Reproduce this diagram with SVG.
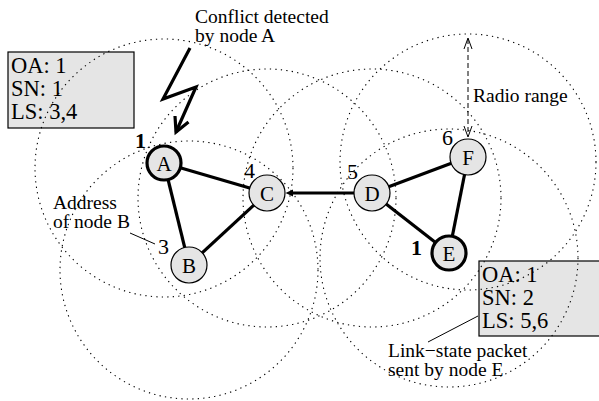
<svg xmlns="http://www.w3.org/2000/svg" width="599" height="401" viewBox="0 0 599 401" font-family="'Liberation Serif', 'DejaVu Serif', serif">
<style>
text{font-family:'Liberation Serif','DejaVu Serif',serif;font-size:19.5px;fill:#000}
.box{fill:#e5e5e5;stroke:#000;stroke-width:1.2}
.bt{font-size:22.5px}
.num{font-size:22px}
.range{fill:none;stroke:#000;stroke-width:1.1;stroke-dasharray:1.3 4.2}
.edge{stroke:#000;stroke-width:3.2;fill:none}
.node{fill:#e5e5e5;stroke:#000;stroke-width:1.2}
.bold{stroke-width:3.2}
.thin{stroke:#000;stroke-width:1;fill:none}
.lbl{text-anchor:middle;font-size:21px}
.b{font-weight:bold}
</style>
<g id="packet-a">
<rect class="box" x="8" y="52" width="126" height="76"/>
<text class="bt" x="11" y="73">OA: 1</text>
<text class="bt" x="11" y="96">SN: 1</text>
<text class="bt" x="11" y="119">LS: 3,4</text>
</g>
<g id="packet-e">
<rect class="box" x="479" y="261" width="125" height="75"/>
<text class="bt" x="482" y="282">OA: 1</text>
<text class="bt" x="482" y="305">SN: 2</text>
<text class="bt" x="482" y="328">LS: 5,6</text>
</g>
<g id="ranges">
<circle class="range" cx="164" cy="168" r="129"/>
<circle class="range" cx="189" cy="270" r="129"/>
<circle class="range" cx="267" cy="198" r="129"/>
<circle class="range" cx="372" cy="198" r="129"/>
<circle class="range" cx="449" cy="258" r="129"/>
<circle class="range" cx="468" cy="162" r="128"/>
</g>
<g id="connectors">
<line class="edge" x1="164" y1="163" x2="267" y2="193"/>
<line class="edge" x1="164" y1="163" x2="189" y2="265"/>
<line class="edge" x1="189" y1="265" x2="267" y2="193"/>
<line class="edge" x1="354" y1="193" x2="292" y2="193"/>
<path d="M285.5,193 L293,189.5 L293,196.5 Z" fill="#000"/>
<line class="edge" x1="372" y1="193" x2="468" y2="157"/>
<line class="edge" x1="372" y1="193" x2="449" y2="253"/>
<line class="edge" x1="449" y1="253" x2="468" y2="157"/>
<polyline class="edge" points="190,48 163,99 196,87 176,132"/>
<polyline class="edge" points="175,116 176,132 188.5,122"/>
<line class="thin" x1="468" y1="39" x2="468" y2="136" stroke-dasharray="5 3"/>
<polyline class="thin" points="464,49 468,38 472,49"/>
<polyline class="thin" points="464,126 468,137 472,126"/>
<line class="thin" x1="130" y1="233" x2="155" y2="244"/>
<line class="thin" x1="428" y1="342" x2="478" y2="316"/>
</g>
<g id="node-A"><circle class="node bold" cx="164" cy="163" r="17"/><text class="lbl" x="164" y="170.5">A</text></g>
<g id="node-B"><circle class="node" cx="189" cy="265" r="18"/><text class="lbl" x="189" y="272.5">B</text></g>
<g id="node-C"><circle class="node" cx="267" cy="193" r="18"/><text class="lbl" x="267" y="200.5">C</text></g>
<g id="node-D"><circle class="node" cx="372" cy="193" r="18"/><text class="lbl" x="372" y="200.5">D</text></g>
<g id="node-E"><circle class="node bold" cx="449" cy="253" r="17"/><text class="lbl" x="449" y="260.5">E</text></g>
<g id="node-F"><circle class="node" cx="468" cy="157" r="18"/><text class="lbl" x="468" y="164.5">F</text></g>
<g id="labels">
<text class="num b" x="135" y="148">1</text>
<text class="num" x="244" y="178">4</text>
<text class="num" x="347" y="179">5</text>
<text class="num" x="442" y="145">6</text>
<text class="num" x="158" y="254">3</text>
<text class="num b" x="411" y="255">1</text>
<text x="195" y="23">Conflict detected</text>
<text x="195" y="42">by node A</text>
<text x="473" y="102">Radio range</text>
<text x="53" y="209">Address</text>
<text x="53" y="228">of node B</text>
<text x="388" y="357">Link−state packet</text>
<text x="388" y="376">sent by node E</text>
</g>
</svg>
